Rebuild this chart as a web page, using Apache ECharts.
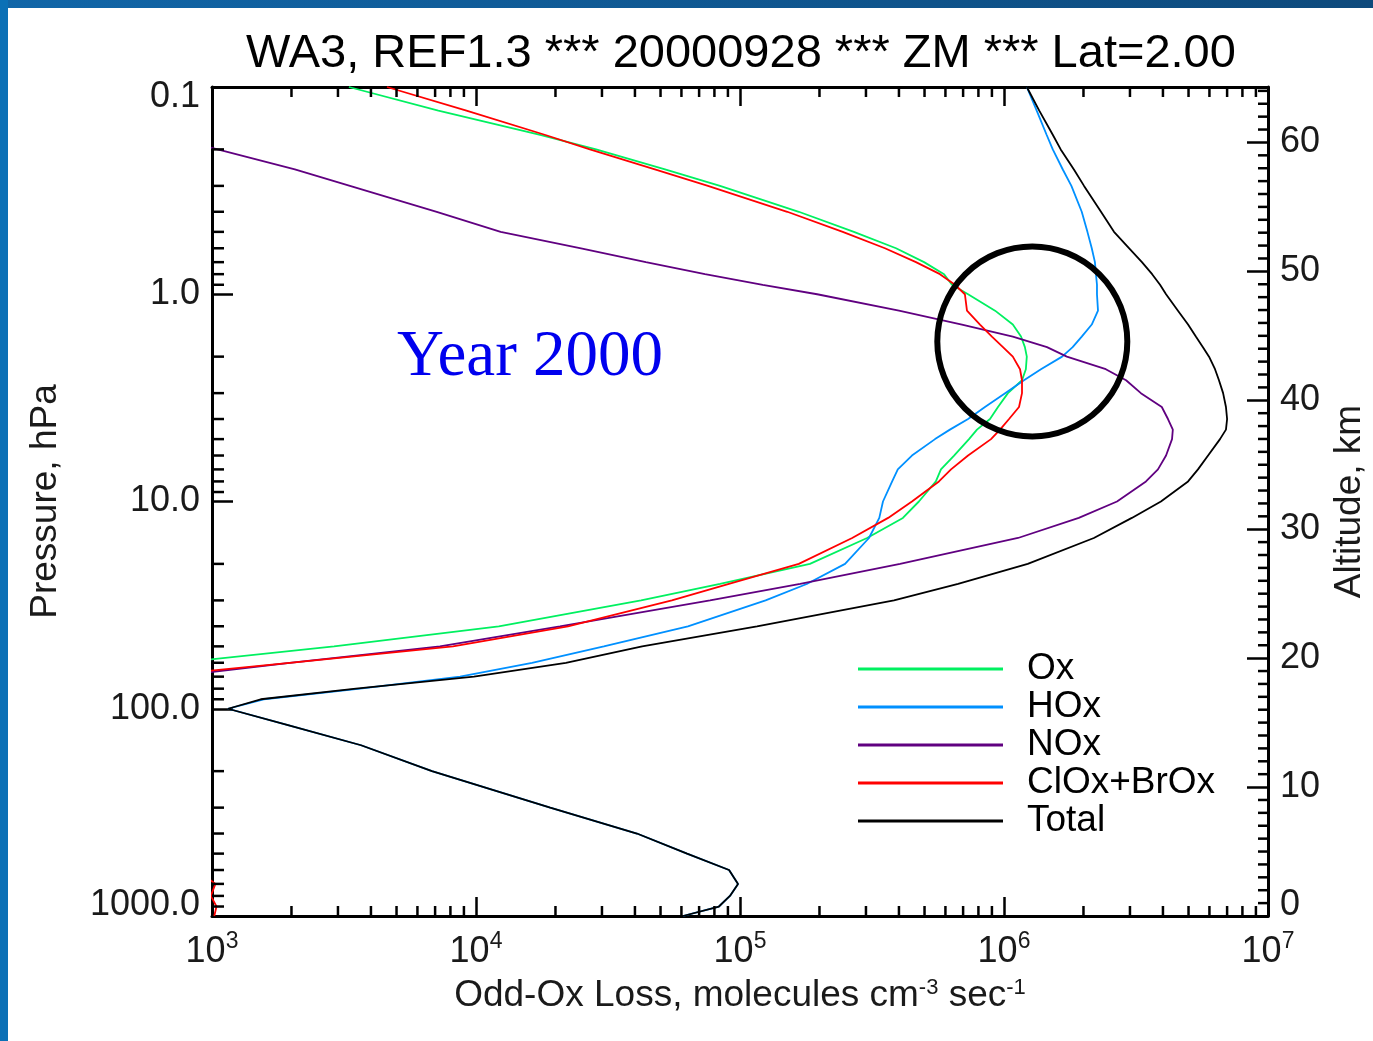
<!DOCTYPE html>
<html>
<head>
<meta charset="utf-8">
<script src="https://cdn.jsdelivr.net/npm/echarts@6/dist/echarts.min.js"></script>
<style>
  html, body { margin: 0; padding: 0; background: #ffffff; }
  #chart { width: 1373px; height: 1041px; }
</style>
</head>
<body>
<div id="chart"></div>
<script>
// Model pressure levels (hPa) shared by all loss profiles
const pressureLevels = [
  0.1, 0.13, 0.17, 0.2, 0.25, 0.3, 0.4, 0.5, 0.6, 0.7, 0.8, 0.9,
  1.0, 1.2, 1.4, 1.6, 1.8, 2.0, 2.3, 2.6, 3.0, 3.5, 4, 4.5, 5, 6, 7, 8,
  10, 12, 15, 20, 25, 30, 40, 50, 60, 70, 80, 90,
  100, 120, 150, 200, 300, 400, 500, 600, 700, 800, 900, 1000
];

// Odd-Ox loss rates, molecules cm^-3 s^-1, one value per pressure level
const ox = [
  3.3e3, 7.2e3, 1.75e4, 2.85e4, 5.2e4, 8.4e4, 1.67e5, 2.7e5, 3.9e5, 4.98e5, 5.93e5, 6.35e5,
  7.31e5, 9.25e5, 1.08e6, 1.16e6, 1.2e6, 1.22e6, 1.21e6, 1.17e6, 1.035e6, 9.49e5, 8.85e5, 7.9e5, 7.37e5, 6.47e5, 5.77e5, 5.52e5,
  4.76e5, 4.14e5, 3.03e5, 1.84e5, 8.4e4, 4.22e4, 1.22e4, 2.9e3, 750, 300, null, null,
  null, null, null, null, null, null, null, null, null, null, null, null
];
const hox = [
  1.22e6, 1.33e6, 1.45e6, 1.53e6, 1.67e6, 1.8e6, 1.97e6, 2.07e6, 2.15e6, 2.21e6, 2.23e6, 2.25e6,
  2.25e6, 2.27e6, 2.15e6, 1.97e6, 1.82e6, 1.66e6, 1.38e6, 1.19e6, 1.01e6, 8.47e5, 7.31e5, 6.24e5, 5.48e5, 4.48e5, 3.96e5, 3.77e5,
  3.48e5, 3.37e5, 3.08e5, 2.5e5, 1.79e5, 1.25e5, 6.35e4, 3.05e4, 1.63e4, 8.7e3, 3.64e3, 1.57e3,
  1.15e3, 1.94e3, 3.67e3, 6.81e3, 1.91e4, 4.07e4, 6.3e4, 9.09e4, 9.83e4, 9.16e4, 8.32e4, 6.08e4
];
const nox = [
  150, 310, 660, 1.05e3, 2.06e3, 3.33e3, 7.1e3, 1.24e4, 2.5e4, 4.4e4, 7.37e4, 1.22e5,
  1.96e5, 4.0e5, 6.93e5, 1.08e6, 1.455e6, 1.73e6, 2.43e6, 2.9e6, 3.3e6, 3.96e6, 4.18e6, 4.36e6, 4.33e6, 4.11e6, 3.83e6, 3.45e6,
  2.68e6, 1.92e6, 1.13e6, 4.04e5, 1.69e5, 7.7e4, 2.08e4, 7.3e3, 1.97e3, 700, null, null,
  null, null, null, null, null, null, null, null, null, null, null, null
];
const cloxBrox = [
  4.6e3, 9.2e3, 1.82e4, 2.7e4, 4.76e4, 7.56e4, 1.51e5, 2.45e5, 3.54e5, 4.64e5, 5.72e5, 6.52e5,
  7.11e5, 7.24e5, 8.11e5, 9.0e5, 9.91e5, 1.08e6, 1.15e6, 1.17e6, 1.17e6, 1.14e6, 1.045e6, 9.66e5, 8.93e5, 7.31e5, 6.3e5, 5.67e5,
  4.48e5, 3.64e5, 2.66e5, 1.67e5, 9.08e4, 5.52e4, 2.23e4, 8.18e3, 1.97e3, 580, 300, 250,
  220, 200, 200, 220, 300, 420, 600, 880, 1030, 990, 1040, 1020
];
const total = [
  1.22e6, 1.36e6, 1.53e6, 1.64e6, 1.84e6, 2.01e6, 2.33e6, 2.61e6, 2.98e6, 3.33e6, 3.64e6, 3.9e6,
  4.11e6, 4.56e6, 4.98e6, 5.33e6, 5.67e6, 5.98e6, 6.3e6, 6.52e6, 6.76e6, 6.93e6, 7.0e6, 6.93e6, 6.58e6, 5.93e6, 5.43e6, 4.98e6,
  3.93e6, 3.05e6, 2.19e6, 1.23e6, 6.7e5, 3.83e5, 1.16e5, 4.26e4, 2.19e4, 9.82e3, 3.51e3, 1.53e3,
  1.15e3, 1.94e3, 3.67e3, 6.81e3, 1.91e4, 4.07e4, 6.3e4, 9.09e4, 9.83e4, 9.16e4, 8.32e4, 6.08e4
];

const seriesNames = ['Ox', 'HOx', 'NOx', 'ClOx+BrOx', 'Total'];
const seriesColors = ['#00F060', '#0090FF', '#600080', '#FF0000', '#000000'];
const seriesValues = [ox, hox, nox, cloxBrox, total];

// Axis ranges and tick positions
const lossRange = [1e3, 1e7];
const pressureRange = [0.1, 1000];
const altitudeRange = [0, 64.3];
const lossDecades = [1e3, 1e4, 1e5, 1e6];
const pressureDecades = [0.1, 1, 10, 100];
const minorMultipliers = [2, 3, 4, 5, 6, 7, 8, 9];
const altitudeMinor = [1,2,3,4,5,6,7,8,9,11,12,13,14,15,16,17,18,19,21,22,23,24,25,26,27,28,29,
  31,32,33,34,35,36,37,38,39,41,42,43,44,45,46,47,48,49,51,52,53,54,55,56,57,58,59,61,62,63,64];

// Highlighted region (centre in data units)
const highlightCentre = [1.28e6, 1.69];

const titleText = 'WA3, REF1.3 *** 20000928 *** ZM *** Lat=2.00';
const yearText = 'Year 2000';

const FONT = '"Liberation Sans", Arial, Helvetica, sans-serif';
const LABEL_COLOR = '#1a1a1a';

function pairs(values) {
  return pressureLevels.map((p, i) => values[i] == null ? null : [values[i], p]).filter(d => d !== null);
}

function minorList(decades) {
  const out = [];
  decades.forEach(d => minorMultipliers.forEach(m => out.push(+(m * d).toPrecision(3))));
  return out;
}

// Small inward tick drawn from a point on the frame
function tickSeries(data, xIdx, yIdx, dx, dy) {
  return {
    type: 'custom',
    xAxisIndex: xIdx,
    yAxisIndex: yIdx,
    silent: true,
    z: 5,
    data: data,
    renderItem: function (params, api) {
      const pt = api.coord([api.value(0), api.value(1)]);
      return {
        type: 'line',
        shape: { x1: pt[0], y1: pt[1], x2: pt[0] + dx, y2: pt[1] + dy },
        style: { stroke: '#000', lineWidth: 2.5 }
      };
    }
  };
}

const labelRich = {
  lo: { fontFamily: FONT, fontSize: 36, color: LABEL_COLOR, padding: [20, 0, 0, 0] },
  hi: { fontFamily: FONT, fontSize: 36, color: LABEL_COLOR, padding: [0, 0, 22, 0] }
};

const chart = echarts.init(document.getElementById('chart'), null, { renderer: 'canvas' });

const lineSeries = seriesNames.map((name, i) => ({
  name: name,
  type: 'line',
  xAxisIndex: 0,
  yAxisIndex: 0,
  data: pairs(seriesValues[i]),
  showSymbol: false,
  symbol: 'none',
  clip: true,
  lineStyle: { color: seriesColors[i], width: 1.8 },
  itemStyle: { color: seriesColors[i] },
  emphasis: { disabled: true },
  z: 2
}));

const xMinor = minorList(lossDecades);
const pMinor = minorList(pressureDecades);

const option = {
  animation: false,
  backgroundColor: '#ffffff',
  textStyle: { fontFamily: FONT },
  graphic: [
    { type: 'rect', shape: { x: 0, y: 0, width: 1373, height: 8 },
      style: { fill: new echarts.graphic.LinearGradient(0, 0, 1, 0, [
        { offset: 0, color: '#1166a8' }, { offset: 1, color: '#0e4a7c' }]) }, silent: true },
    { type: 'rect', shape: { x: 0, y: 0, width: 8, height: 1041 },
      style: { fill: '#0b70b6' }, silent: true },
    { type: 'text', x: 741, y: 54,
      style: { text: titleText, font: '47px ' + FONT, fill: '#000', align: 'center', verticalAlign: 'middle' },
      silent: true },
    { type: 'text', x: 397, y: 358,
      style: { text: yearText, font: '65px "Liberation Serif", "Times New Roman", serif', fill: '#0000EE',
        align: 'left', verticalAlign: 'middle' },
      silent: true }
  ],
  legend: {
    data: seriesNames,
    orient: 'vertical',
    left: 853,
    top: 645,
    itemWidth: 145,
    itemHeight: 3,
    itemGap: 0,
    icon: 'rect',
    selectedMode: false,
    textStyle: { fontFamily: FONT, fontSize: 37, color: '#000', lineHeight: 38, padding: [0, 0, 0, 19] }
  },
  grid: { left: 212, top: 87, width: 1056, height: 829, containLabel: false, outerBoundsMode: 'none' },
  xAxis: [
    {
      type: 'log', logBase: 10, position: 'bottom',
      min: lossRange[0], max: lossRange[1],
      axisLine: { onZero: false, lineStyle: { color: '#000', width: 3 } },
      axisTick: { inside: true, length: 19, lineStyle: { color: '#000', width: 2.5 } },
      splitLine: { show: false },
      axisLabel: {
        margin: 14,
        formatter: v => '{b|10}{s|' + Math.round(Math.log10(v)) + '}',
        rich: {
          b: { fontFamily: FONT, fontSize: 36, color: LABEL_COLOR, lineHeight: 40, verticalAlign: 'bottom' },
          s: { fontFamily: FONT, fontSize: 23, color: LABEL_COLOR, lineHeight: 23, verticalAlign: 'top' }
        }
      },
      name: 'Odd-Ox Loss, molecules cm{s|-3} sec{s|-1}',
      nameLocation: 'middle',
      nameGap: 61,
      nameTextStyle: {
        fontFamily: FONT, fontSize: 37, color: LABEL_COLOR,
        rich: {
          s: { fontFamily: FONT, fontSize: 22, color: LABEL_COLOR, verticalAlign: 'top', lineHeight: 22 }
        }
      }
    },
    {
      type: 'log', logBase: 10, position: 'top',
      min: lossRange[0], max: lossRange[1],
      axisLine: { onZero: false, lineStyle: { color: '#000', width: 3 } },
      axisTick: { inside: true, length: 19, lineStyle: { color: '#000', width: 2.5 } },
      axisLabel: { show: false },
      splitLine: { show: false }
    }
  ],
  yAxis: [
    {
      type: 'log', logBase: 10, position: 'left', inverse: true,
      min: pressureRange[0], max: pressureRange[1],
      axisLine: { onZero: false, lineStyle: { color: '#000', width: 3 } },
      axisTick: { inside: true, length: 21, lineStyle: { color: '#000', width: 2.5 } },
      splitLine: { show: false },
      axisLabel: {
        margin: 12, fontFamily: FONT, fontSize: 36, color: LABEL_COLOR,
        formatter: v => {
          const s = v.toFixed(1);
          if (v < 0.5) return '{lo|' + s + '}';
          if (v > 500) return '{hi|' + s + '}';
          return s;
        },
        rich: labelRich
      },
      name: 'Pressure, hPa',
      nameLocation: 'middle',
      nameGap: 148,
      nameTextStyle: { fontFamily: FONT, fontSize: 37, color: LABEL_COLOR }
    },
    {
      type: 'value', position: 'right',
      min: altitudeRange[0], max: altitudeRange[1], interval: 10,
      axisLine: { onZero: false, lineStyle: { color: '#000', width: 3 } },
      axisTick: { inside: true, length: 21, lineStyle: { color: '#000', width: 2.5 } },
      splitLine: { show: false },
      axisLabel: {
        margin: 12, fontFamily: FONT, fontSize: 36, color: LABEL_COLOR, showMaxLabel: false,
        formatter: v => v === 0 ? '{hi|0}' : String(v),
        rich: labelRich
      },
      name: 'Altitude, km',
      nameLocation: 'middle',
      nameGap: 57,
      nameTextStyle: { fontFamily: FONT, fontSize: 37, color: LABEL_COLOR }
    }
  ],
  series: lineSeries.concat([
    tickSeries(xMinor.map(v => [v, pressureRange[1]]), 0, 0, 0, -10),
    tickSeries(xMinor.map(v => [v, pressureRange[0]]), 0, 0, 0, 10),
    tickSeries(pMinor.map(p => [lossRange[0], p]), 0, 0, 12, 0),
    tickSeries(altitudeMinor.map(a => [lossRange[1], a]), 0, 1, -10, 0),
    {
      type: 'custom',
      xAxisIndex: 0,
      yAxisIndex: 0,
      silent: true,
      z: 6,
      data: [highlightCentre],
      renderItem: function (params, api) {
        const c = api.coord([api.value(0), api.value(1)]);
        return {
          type: 'circle',
          shape: { cx: c[0], cy: c[1], r: 95 },
          style: { fill: null, stroke: '#000', lineWidth: 6 }
        };
      }
    }
  ])
};

chart.setOption(option);
</script>
</body>
</html>
